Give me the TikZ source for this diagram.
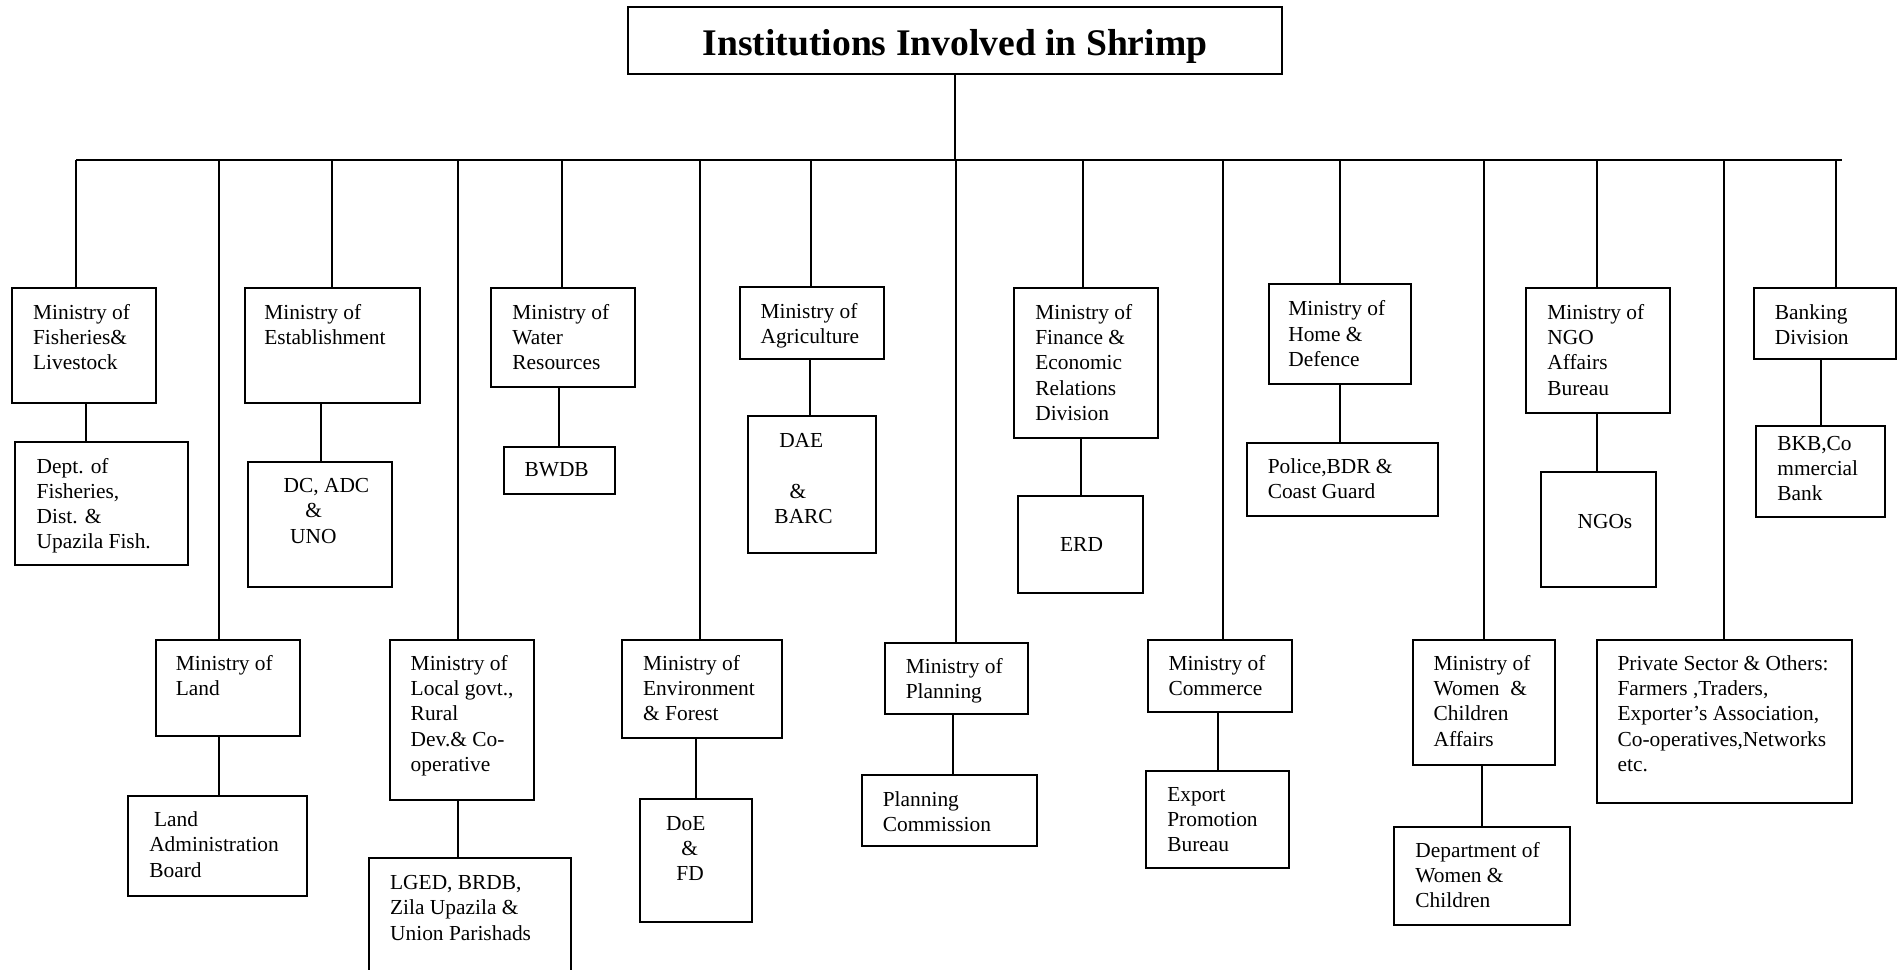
\documentclass[tikz,border=0pt]{standalone}
\usepackage{fontspec}
\setmainfont{Liberation Serif}
\usetikzlibrary{fit}
\newcommand\mlines[1]{\begin{tabular}[t]{@{}l@{}}#1\end{tabular}}
\begin{document}
\begin{tikzpicture}[x=0.6053pt,y=-0.6053pt,
  box/.style={draw,line width=1pt,inner sep=0pt,rectangle},
  txt/.style={inner sep=0pt,anchor=base west,font=\fontsize{10.7}{12.6}\selectfont},
  conn/.style={line width=1pt}]
\useasboundingbox (0,0) rectangle (1568,801);
\clip (0,0) rectangle (1568,801);
% title
\node[box,fit={(519,6) (1059,61)}] (title) {};
\node[font=\fontsize{18.8}{22}\selectfont\bfseries,inner sep=0pt,anchor=base] (titlet) at (789,45.5) {Institutions Involved in Shrimp};
% bus
\coordinate (busL) at (63,132);
\coordinate (busR) at (1522,132);
\draw[conn] (busL) -- (busR);
\draw[conn] (title.south) -- (title.south |- busL);
% drop coordinates
\coordinate (t1) at (63,132);
\coordinate (t2) at (274,132);
\coordinate (t3) at (464,132);
\coordinate (t4) at (670,132);
\coordinate (t5) at (895,132);
\coordinate (t6) at (1107,132);
\coordinate (t7) at (1319,132);
\coordinate (t8) at (1517,132);
\coordinate (t9) at (181,132);
\coordinate (t10) at (378,132);
\coordinate (t11) at (578,132);
\coordinate (t12) at (790,132);
\coordinate (t13) at (1010,132);
\coordinate (t14) at (1226,132);
\coordinate (t15) at (1424,132);
% child connector x positions
\coordinate (k1) at (71,0);
\coordinate (k2) at (265,0);
\coordinate (k3) at (462,0);
\coordinate (k4) at (669,0);
\coordinate (k5) at (893,0);
\coordinate (k6) at (1107,0);
\coordinate (k7) at (1319,0);
\coordinate (k8) at (1504,0);
\coordinate (k9) at (181,0);
\coordinate (k10) at (378,0);
\coordinate (k11) at (575,0);
\coordinate (k12) at (787,0);
\coordinate (k13) at (1006,0);
\coordinate (k14) at (1224,0);

% ---- upper row ----
\node[box,fit={(10,238) (129,333)}] (m1) {};
\node[txt] (m1t) at (27,264) {\mlines{Ministry of\\Fisheries\&\\Livestock}};
\node[box,fit={(12,365) (155,467)}] (c1) {};
\node[txt] (c1t) at (30,391) {\mlines{Dept. of\\Fisheries,\\Dist. \&\\Upazila Fish.}};

\node[box,fit={(202,238) (347,333)}] (m2) {};
\node[txt] (m2t) at (218,264) {\mlines{Ministry of\\Establishment}};
\node[box,fit={(205,382) (324,485)}] (c2) {};
\node[txt] (c2t) at (234,407) {\mlines{DC, ADC\\\hspace*{10.9pt}\&\\\hspace*{3.3pt}UNO}};

\node[box,fit={(406,238) (525,320)}] (m3) {};
\node[txt] (m3t) at (423,264) {\mlines{Ministry of\\Water\\Resources}};
\node[box,fit={(416,369) (508,408)}] (c3) {};
\node[txt] (c3t) at (433,394) {BWDB};

\node[box,fit={(611,237) (730,297)}] (m4) {};
\node[txt] (m4t) at (628,263) {\mlines{Ministry of\\Agriculture}};
\node[box,fit={(618,344) (724,457)}] (c4) {};
\node[txt] (c4t) at (639.5,370) {\mlines{\hspace*{2.4pt}DAE\\ \\\hspace*{7.6pt}\&\\BARC}};

\node[box,fit={(838,238) (957,362)}] (m5) {};
\node[txt] (m5t) at (855,264) {\mlines{Ministry of\\Finance \&\\Economic\\Relations\\Division}};
\node[box,fit={(841,410) (944,490)}] (c5) {};
\node[txt] (c5t) at (875.5,456) {ERD};

\node[box,fit={(1048,235) (1166,317)}] (m6) {};
\node[txt] (m6t) at (1064,261) {\mlines{Ministry of\\Home \&\\Defence}};
\node[box,fit={(1030,366) (1188,426)}] (c6) {};
\node[txt] (c6t) at (1047,391) {\mlines{Police,BDR \&\\Coast Guard}};

\node[box,fit={(1261,238) (1380,341)}] (m7) {};
\node[txt] (m7t) at (1278,264) {\mlines{Ministry of\\NGO\\Affairs\\Bureau}};
\node[box,fit={(1273,390) (1368,485)}] (c7) {};
\node[txt] (c7t) at (1303,437) {NGOs};

\node[box,fit={(1449,238) (1566,297)}] (m8) {};
\node[txt] (m8t) at (1466,264) {\mlines{Banking\\Division}};
\node[box,fit={(1451,352) (1557,427)}] (c8) {};
\node[txt] (c8t) at (1468,372) {\mlines{BKB,Co\\mmercial\\Bank}};

% ---- lower row ----
\node[box,fit={(129,529) (248,608)}] (m9) {};
\node[txt] (m9t) at (145,554) {\mlines{Ministry of\\Land}};
\node[box,fit={(106,658) (254,740)}] (c9) {};
\node[txt] (c9t) at (123,683) {\mlines{\hspace*{2.4pt}Land\\Administration\\Board}};

\node[box,fit={(322,529) (441,661)}] (m10) {};
\node[txt] (m10t) at (339,554) {\mlines{Ministry of\\Local govt.,\\Rural\\Dev.\& Co-\\operative}};
\node[box,fit={(305,709) (472,830)}] (c10) {};
\node[txt] (c10t) at (322,735) {\mlines{LGED, BRDB,\\Zila Upazila \&\\Union Parishads}};

\node[box,fit={(514,529) (646,610)}] (m11) {};
\node[txt] (m11t) at (531,554) {\mlines{Ministry of\\Environment\\\& Forest}};
\node[box,fit={(529,660) (621,762)}] (c11) {};
\node[txt] (c11t) at (550,686) {\mlines{DoE\\\hspace*{7.6pt}\&\\\hspace*{5.1pt}FD}};

\node[box,fit={(731,531) (849,590)}] (m12) {};
\node[txt] (m12t) at (748,556) {\mlines{Ministry of\\Planning}};
\node[box,fit={(712,640) (857,699)}] (c12) {};
\node[txt] (c12t) at (729,666) {\mlines{Planning\\Commission}};

\node[box,fit={(948,529) (1067,588)}] (m13) {};
\node[txt] (m13t) at (965,554) {\mlines{Ministry of\\Commerce}};
\node[box,fit={(947,637) (1065,717)}] (c13) {};
\node[txt] (c13t) at (964,662) {\mlines{Export\\Promotion\\Bureau}};

\node[box,fit={(1167,529) (1285,632)}] (m14) {};
\node[txt] (m14t) at (1184,554) {\mlines{Ministry of\\Women\ \ \&\\Children\\Affairs}};
\node[box,fit={(1152,683) (1297,764)}] (c14) {};
\node[txt] (c14t) at (1169,708) {\mlines{Department of\\Women \&\\Children}};

\node[box,fit={(1319,529) (1530,663)}] (m15) {};
\node[txt] (m15t) at (1336,554) {\mlines{Private Sector \& Others:\\Farmers ,Traders,\\Exporter’s Association,\\Co-operatives,Networks\\etc.}};

% ---- drops from bus ----
\foreach \i in {1,...,15} {\draw[conn] (t\i) -- (t\i |- m\i.north);}
% ---- parent to child ----
\foreach \i in {1,...,14} {\draw[conn] (m\i.south -| k\i) -- (c\i.north -| k\i);}
\end{tikzpicture}
\end{document}
